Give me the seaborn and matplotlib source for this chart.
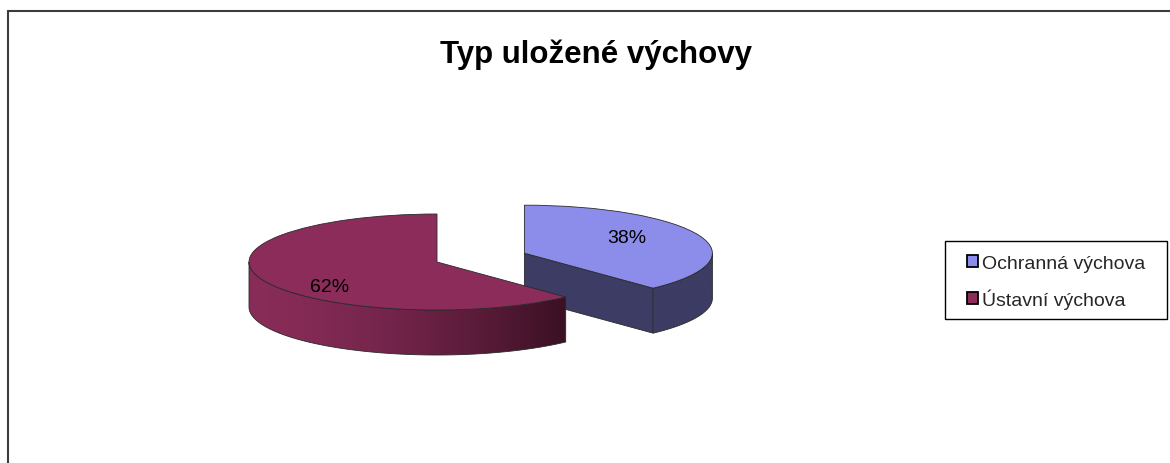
import numpy as np
import matplotlib
matplotlib.use("Agg")
import matplotlib.pyplot as plt
import seaborn as sns
from matplotlib.lines import Line2D
from matplotlib.patches import Polygon, Rectangle
from matplotlib.colors import to_rgb

# ---------------- data ----------------
categories = ["Ochranná výchova", "Ústavní výchova"]
values = [38, 62]
title = "Typ uložené výchovy"

# ---------------- style ----------------
sns.set_theme(style="white")
plt.rcParams["font.family"] = ["Liberation Sans", "DejaVu Sans"]

W, H = 1170, 464
CX, CY = 437, 263          # pixel position of pie centre
RX, RY = 188, 48           # pixel semi-axes of tilted pie
DEPTH = 45 / RY            # side thickness in data units
top_colors = ["#8c8ceb", "#8b2c5a"]
side_colors = [("#3c3c64", "#3c3c64"), ("#882c58", "#3a1024")]
explode = [0.5, 0.0]
label_polar = [(0.64, 31.5), (0.775, 222.2)]
edge_c = "#2a2a2a"

fig = plt.figure(figsize=(W / 100, H / 100), dpi=100)
fig.patch.set_facecolor("white")
ax = fig.add_axes([0, 0, 1, 1])

wedges, texts, autotexts = ax.pie(
    values, explode=explode, colors=top_colors, startangle=90,
    counterclock=False, autopct=lambda p: f"{p:.0f}%",
    wedgeprops=dict(edgecolor=edge_c, linewidth=0.6),
    textprops=dict(fontsize=14, color="black"),
)
ax.set_aspect("auto")
xlim = (-CX / RX, (W - CX) / RX)
ylim = ((CY - H) / RY, CY / RY)


def front_ranges(t1, t2):
    out = []
    for k in range(-2, 3):
        a, b = -180 + 360 * k, 0 + 360 * k
        lo, hi = max(a, t1), min(b, t2)
        if hi > lo:
            out.append((lo, hi))
    return out


for i, w in enumerate(wedges):
    cx, cy = w.center
    t1, t2 = w.theta1, w.theta2
    zs = 1 + 2 * i
    w.set_zorder(zs + 1)
    c0, c1 = np.array(to_rgb(side_colors[i][0])), np.array(to_rgb(side_colors[i][1]))
    # visible cut faces
    for t, vis in ((t1, np.cos(np.radians(t1)) > 1e-6), (t2, np.cos(np.radians(t2)) < -1e-6)):
        if vis:
            ex, ey = cx + np.cos(np.radians(t)), cy + np.sin(np.radians(t))
            quad = [(cx, cy), (ex, ey), (ex, ey - DEPTH), (cx, cy - DEPTH)]
            ax.add_patch(Polygon(quad, closed=True, facecolor=c0, edgecolor=edge_c,
                                 linewidth=0.6, zorder=zs))
    # outer curved side with horizontal gradient
    for lo, hi in front_ranges(t1, t2):
        th = np.radians(np.linspace(lo, hi, 200))
        xs = cx + np.cos(th)
        ys = cy + np.sin(th)
        outline = list(zip(xs, ys)) + list(zip(xs[::-1], ys[::-1] - DEPTH))
        poly = Polygon(outline, closed=True, facecolor="none", edgecolor=edge_c,
                       linewidth=0.6, zorder=zs + 0.1)
        ax.add_patch(poly)
        xmin, xmax = xs.min(), xs.max()
        f = np.linspace(0, 1, 256) ** 1.6
        grad = (c0[None, :] + (c1 - c0)[None, :] * f[:, None])[None, :, :]
        im = ax.imshow(grad, extent=(xmin, xmax, ys.min() - DEPTH, ys.max()),
                       aspect="auto", interpolation="bilinear", zorder=zs, origin="lower")
        im.set_clip_path(poly)

ax.set_xlim(*xlim)
ax.set_ylim(*ylim)
ax.axis("off")

for i, w in enumerate(wedges):
    cx, cy = w.center
    r, a = label_polar[i]
    autotexts[i].set_position((cx + r * np.cos(np.radians(a)), cy + r * np.sin(np.radians(a))))
    autotexts[i].set_zorder(10)

# title
fig.text(596 / W, 1 - 63 / H, title, ha="center", va="baseline",
         fontsize=22.5, fontweight="bold", color="black")

# outer border (top and left visible)
fig.add_artist(Line2D([8 / W, 1], [1 - 12 / H, 1 - 12 / H], transform=fig.transFigure,
                      color="#3c3c3c", linewidth=1.5))
fig.add_artist(Line2D([8 / W, 8 / W], [0, 1 - 12 / H], transform=fig.transFigure,
                      color="#3c3c3c", linewidth=1.5))

# legend
fig.add_artist(Rectangle((945 / W, 1 - 320 / H), 222 / W, 78 / H, transform=fig.transFigure,
                         fill=False, edgecolor="black", linewidth=1.0))
leg = fig.legend(wedges, categories, loc="upper left",
                 bbox_to_anchor=(967 / W, 1 - 256 / H), frameon=False, fontsize=14,
                 handlelength=0.55, handleheight=0.55, handletextpad=0.2,
                 labelspacing=0.85, borderpad=0, borderaxespad=0)
for h in leg.legend_handles:
    h.set_edgecolor("black")
    h.set_linewidth(1.3)

fig.savefig("out.png", dpi=100, facecolor="white")
